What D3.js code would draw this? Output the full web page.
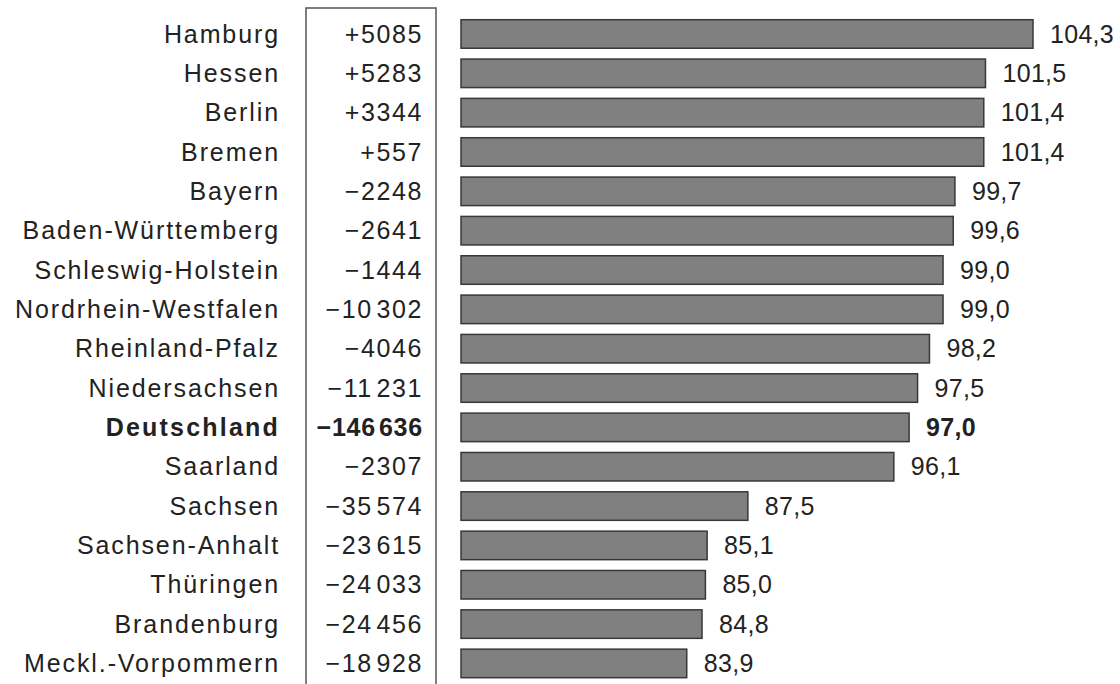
<!DOCTYPE html>
<html>
<head>
<meta charset="utf-8">
<script src="https://cdn.jsdelivr.net/npm/d3@7"></script>
<style>
   body { margin: 0; background: #fff; }
   svg text { font-family: "Liberation Sans", Arial, sans-serif; fill: #222; font-size: 25px; }
</style>
</head>
<body>
<div id="chart"></div>
<script>
// Bundesländer, sorted as in the source
const states = ['Hamburg', 'Hessen', 'Berlin', 'Bremen', 'Bayern', 'Baden-Württemberg',
   'Schleswig-Holstein', 'Nordrhein-Westfalen', 'Rheinland-Pfalz', 'Niedersachsen',
   'Deutschland', 'Saarland', 'Sachsen', 'Sachsen-Anhalt', 'Thüringen', 'Brandenburg',
   'Meckl.-Vorpommern'];
const changes = [5085, 5283, 3344, 557, -2248, -2641, -1444, -10302, -4046, -11231,
   -146636, -2307, -35574, -23615, -24033, -24456, -18928];
const values = [104.3, 101.5, 101.4, 101.4, 99.7, 99.6, 99.0, 99.0, 98.2, 97.5,
   97.0, 96.1, 87.5, 85.1, 85.0, 84.8, 83.9];
const boldRow = 'Deutschland';

const width = 1120, height = 684;
const rows = states.map((s, i) => ({ state: s, change: changes[i], value: values[i] }));

const svg = d3.select('#chart').append('svg')
   .attr('width', width)
   .attr('height', height);

const x = d3.scaleLinear().domain([70.6, 104.3]).range([461, 1033]);
const y = d3.scaleBand().domain(states).range([14.3, 683.1])
   .paddingInner(0.275).paddingOuter(0.1375);

const fmtChange = d => {
   const s = Math.abs(d) >= 10000
      ? d3.format(',')(Math.abs(d)).replace(/,/g, '\u200A')
      : String(Math.abs(d));
   return (d < 0 ? '\u2212' : '+') + s;
};
const fmtValue = d => d3.format('.1f')(d).replace('.', ',');

// frame round the change column
svg.append('path')
   .attr('d', `M306,${height + 2}V8H436V${height + 2}`)
   .attr('fill', 'none')
   .attr('stroke', '#555')
   .attr('stroke-width', 1.5);

const g = svg.selectAll('g.row')
   .data(rows)
   .enter().append('g')
      .attr('class', 'row')
      .attr('transform', d => `translate(0,${y(d.state) + y.bandwidth() / 2})`)
      .style('font-weight', d => d.state === boldRow ? 'bold' : null);

g.append('rect')
   .attr('x', x.range()[0])
   .attr('y', -y.bandwidth() / 2)
   .attr('width', d => x(d.value) - x.range()[0])
   .attr('height', y.bandwidth())
   .attr('fill', '#808080')
   .attr('stroke', '#383838')
   .attr('stroke-width', 1.5);

g.append('text')
   .attr('x', 280)
   .attr('dy', '0.35em')
   .attr('text-anchor', 'end')
   .style('letter-spacing', d => d.state === boldRow ? '2.2px' : '1.9px')
   .text(d => d.state);

g.append('text')
   .attr('x', 423)
   .attr('dy', '0.35em')
   .attr('text-anchor', 'end')
   .style('letter-spacing', d => d.state === boldRow ? '0.8px' : '1.6px')
   .text(d => fmtChange(d.change));

g.append('text')
   .attr('x', d => x(d.value) + 17)
   .attr('dy', '0.35em')
   .style('letter-spacing', '0.3px')
   .text(d => fmtValue(d.value));
</script>
</body>
</html>
